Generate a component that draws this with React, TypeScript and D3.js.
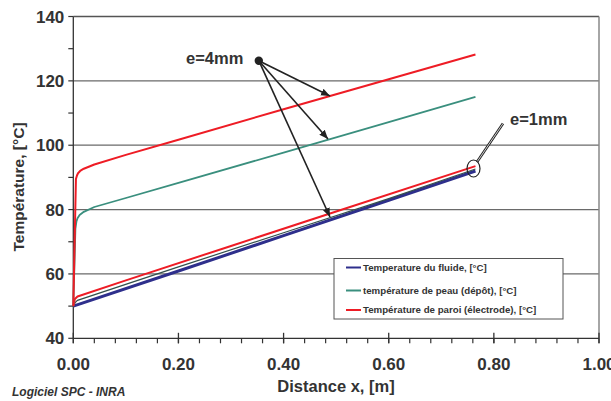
import React from "react";
import * as d3 from "d3";

const fluideX = [0, 0.2, 0.4, 0.6, 0.765];
const fluideY = [50, 60.9, 71.9, 82.9, 92.0];

const peau1X = [0, 0.004, 0.008, 0.2, 0.4, 0.6, 0.765];
const peau1Y = [50, 51.2, 51.8, 62.2, 72.8, 83.4, 92.6];

const paroi1X = [0, 0.003, 0.008, 0.1, 0.3, 0.5, 0.765];
const paroi1Y = [50, 52.2, 53.0, 58.0, 68.7, 79.4, 93.5];

const peau4X = [0, 0.004, 0.006, 0.008, 0.012, 0.02, 0.04, 0.1, 0.2, 0.4, 0.6, 0.765];
const peau4Y = [50, 74, 76.3, 77.3, 78.3, 79.3, 80.8, 83.6, 88.3, 97.7, 107.2, 115];

const paroi4X = [0, 0.005, 0.007, 0.009, 0.013, 0.02, 0.04, 0.1, 0.2, 0.4, 0.6, 0.765];
const paroi4Y = [50, 89.5, 90.6, 91.3, 92.0, 92.7, 94, 97, 101.7, 111.2, 120.5, 128.2];

const xTicks = [0, 0.2, 0.4, 0.6, 0.8, 1.0];
const yTicks = [40, 60, 80, 100, 120, 140];
const gridValues = [60, 80, 100, 120];

const legendLabels = [
  "Temperature du fluide, [°C]",
  "température de peau (dépôt), [°C]",
  "Température de paroi (électrode), [°C]",
];
const legendColors = ["#2e2f8c", "#3a8f7e", "#ee1c25"];

const FONT = "'Liberation Sans', Arial, Helvetica, sans-serif";
const TEXT = "#333";

export default function App() {
  const W = 611, H = 401;
  const x = d3.scaleLinear().domain([0, 1]).range([73.3, 599]);
  const y = d3.scaleLinear().domain([40, 140]).range([338.3, 16.5]);

  const line = d3
    .line<[number, number]>()
    .x((d) => x(d[0]))
    .y((d) => y(d[1]))
    .curve(d3.curveLinear);

  const mk = (xs: number[], ys: number[]) => xs.map((v, i) => [v, ys[i]] as [number, number]);

  const minorX = d3.range(0, 1.0001, 0.04);
  const minorY = d3.range(40, 140.001, 10);

  const dot = { x: 258.8, y: 60.7 };
  const arrowTargets = [
    { x: 330, y: 96 },
    { x: 328, y: 139 },
    { x: 330, y: 217 },
  ];

  return (
    <svg width={W} height={H} style={{ position: "absolute", left: 0, top: 0, background: "#fff" }}>
      <defs>
        <marker id="arr" viewBox="0 0 10 10" refX="10" refY="5" markerWidth="9" markerHeight="9" orient="auto" markerUnits="userSpaceOnUse">
          <path d="M0,1 L10,5 L0,9 Z" fill="#222" />
        </marker>
      </defs>
      <rect x={0} y={0} width={W} height={H} fill="#fff" />

      {gridValues.map((g) => (
        <line key={g} x1={x(0)} x2={x(1)} y1={y(g)} y2={y(g)} stroke="#6a6a6a" strokeWidth={1.3} />
      ))}
      <line x1={x(0)} x2={x(1)} y1={y(140)} y2={y(140)} stroke="#555" strokeWidth={1.3} />
      <line x1={x(1)} x2={x(1)} y1={y(140)} y2={y(40)} stroke="#888" strokeWidth={1.5} />

      <line x1={x(0)} x2={x(0)} y1={y(140)} y2={y(40)} stroke="#333" strokeWidth={1.3} />
      <line x1={x(0)} x2={x(1)} y1={y(40)} y2={y(40)} stroke="#333" strokeWidth={1.3} />

      {minorY.map((v) => (
        <line key={"my" + v} x1={x(0) - 5} x2={x(0)} y1={y(v)} y2={y(v)} stroke="#333" strokeWidth={1.2} />
      ))}
      {minorX.map((v) => (
        <line key={"mx" + v} x1={x(v)} x2={x(v)} y1={y(40)} y2={y(40) + 5} stroke="#333" strokeWidth={1.2} />
      ))}
      {xTicks.map((v) => (
        <line key={"Mx" + v} x1={x(v)} x2={x(v)} y1={y(40) - 5.5} y2={y(40) + 5} stroke="#333" strokeWidth={1.3} />
      ))}

      {yTicks.map((v) => (
        <text key={"ty" + v} x={x(0) - 9} y={y(v)} dy="0.36em" textAnchor="end" fontFamily={FONT} fontWeight="bold" fontSize={17} fill={TEXT}>
          {v}
        </text>
      ))}
      {xTicks.map((v) => (
        <text key={"tx" + v} x={x(v)} y={370} textAnchor="middle" fontFamily={FONT} fontWeight="bold" fontSize={17} fill={TEXT}>
          {v.toFixed(2)}
        </text>
      ))}

      <text x={336} y={392} textAnchor="middle" fontFamily={FONT} fontWeight="bold" fontSize={16.5} fill={TEXT}>
        Distance x, [m]
      </text>
      <text transform="translate(24,187) rotate(-90)" textAnchor="middle" fontFamily={FONT} fontWeight="bold" fontSize={15.5} fill={TEXT}>
        Température, [°C]
      </text>
      <text x={12} y={396} fontFamily={FONT} fontWeight="bold" fontStyle="italic" fontSize={12} fill={TEXT}>
        Logiciel SPC - INRA
      </text>

      <path d={line(mk(fluideX, fluideY)) || ""} fill="none" stroke={legendColors[0]} strokeWidth={3} />
      <path d={line(mk(peau1X, peau1Y)) || ""} fill="none" stroke="#34504c" strokeWidth={1.2} />
      <path d={line(mk(paroi1X, paroi1Y)) || ""} fill="none" stroke={legendColors[2]} strokeWidth={2} strokeLinejoin="round" />
      <path d={line(mk(peau4X, peau4Y)) || ""} fill="none" stroke={legendColors[1]} strokeWidth={1.8} strokeLinejoin="round" />
      <path d={line(mk(paroi4X, paroi4Y)) || ""} fill="none" stroke={legendColors[2]} strokeWidth={2} strokeLinejoin="round" />

      <rect x={334} y={258.5} width={229} height={60.5} fill="#fff" stroke="#555" strokeWidth={1} />
      {legendLabels.map((l, i) => {
        const ly = [267.5, 290.5, 310][i];
        return (
          <g key={l}>
            <line x1={346} x2={361} y1={ly} y2={ly} stroke={legendColors[i]} strokeWidth={2} />
            <text x={363} y={ly} dy="0.35em" fontFamily={FONT} fontWeight="bold" fontSize={9.7} fill={TEXT}>
              {l}
            </text>
          </g>
        );
      })}

      <text x={186} y={64} fontFamily={FONT} fontWeight="bold" fontSize={16.5} fill={TEXT}>
        e=4mm
      </text>
      {arrowTargets.map((t, i) => (
        <line key={"a" + i} x1={dot.x} y1={dot.y} x2={t.x} y2={t.y} stroke="#222" strokeWidth={1.6} markerEnd="url(#arr)" />
      ))}
      <circle cx={dot.x} cy={dot.y} r={4.2} fill="#222" />

      <text x={510} y={125} fontFamily={FONT} fontWeight="bold" fontSize={16.5} fill={TEXT}>
        e=1mm
      </text>
      <line x1={503} y1={123.5} x2={477} y2={162} stroke="#222" strokeWidth={2.6} />
      <line x1={503} y1={123.5} x2={477} y2={162} stroke="#fff" strokeWidth={0.8} />
      <ellipse cx={473.5} cy={168.5} rx={6.5} ry={8.5} fill="none" stroke="#222" strokeWidth={1.2} />
    </svg>
  );
}
